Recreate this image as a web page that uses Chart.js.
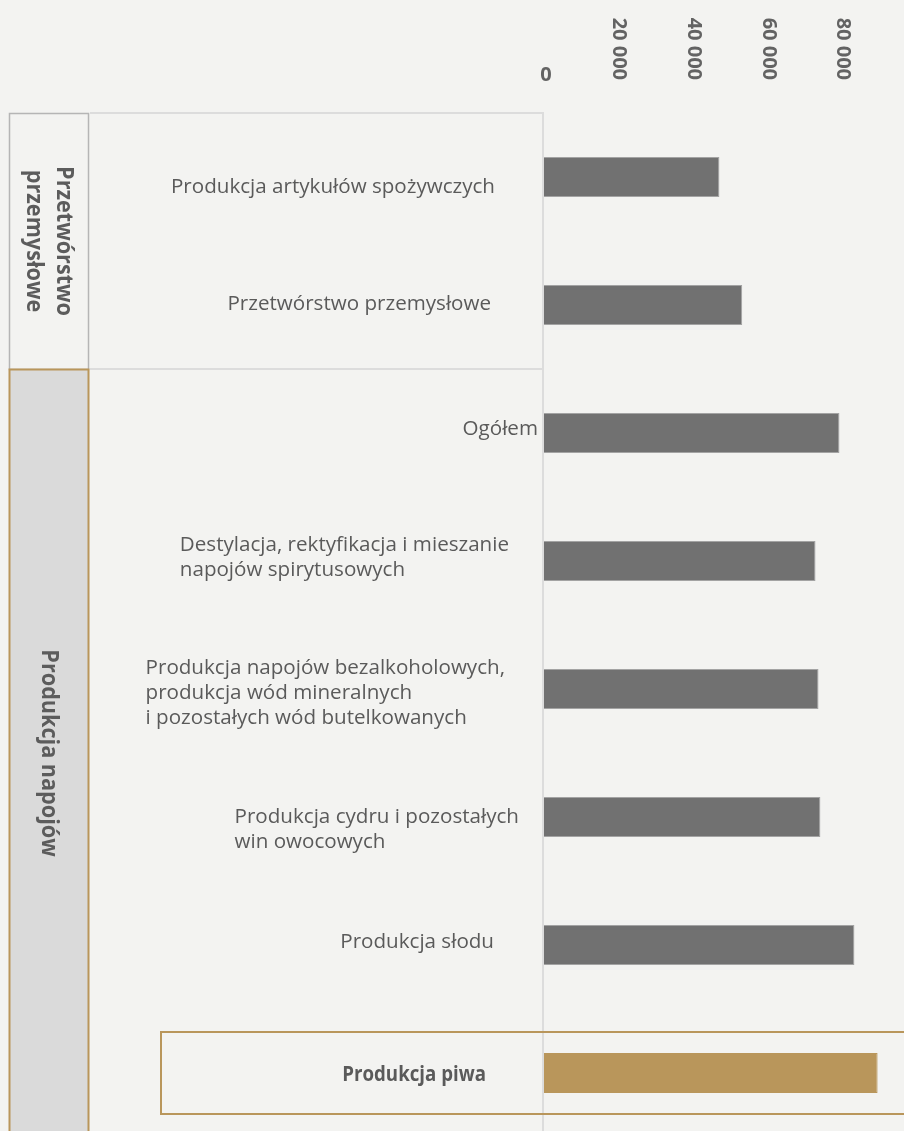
<!DOCTYPE html>
<html>
<head>
<meta charset="utf-8">
<script src="https://cdn.jsdelivr.net/npm/chart.js@4/dist/chart.umd.min.js"></script>
<style>
  html, body { margin: 0; padding: 0; background: #f3f3f1; overflow: hidden; }
  #wrap { position: relative; width: 904px; height: 1131px; overflow: hidden; }
  canvas { display: block; }
</style>
</head>
<body>
<div id="wrap"><canvas id="chart" width="918" height="1140"></canvas></div>
<script>
// Categories (multi-line labels), one bar each
const categories = [
  ['Produkcja artykułów spożywczych'],
  ['Przetwórstwo przemysłowe'],
  ['Ogółem'],
  ['Destylacja, rektyfikacja i mieszanie', 'napojów spirytusowych'],
  ['Produkcja napojów bezalkoholowych,', 'produkcja wód mineralnych', 'i pozostałych wód butelkowanych'],
  ['Produkcja cydru i pozostałych', 'win owocowych'],
  ['Produkcja słodu'],
  ['Produkcja piwa']
];
const values = [46900, 53000, 79000, 72600, 73400, 73900, 83000, 89200];

// Section grouping of the categories
const groupNames = [['Przetwórstwo', 'przemysłowe'], ['Produkcja napojów']];
const groupFirst = [0, 2];
const groupLast = [1, 7];
const highlightIndex = 7;

// Value axis ticks
const tickValues = [0, 20000, 40000, 60000, 80000];
const tickLabels = ['0', '20 000', '40 000', '60 000', '80 000'];

// Layout of the category text blocks: right edge and vertical nudge (px)
const labelRight = [495, 491, 538, 509, 505, 519, 494, 486];
const labelNudge = [10, -1, -4, -3, 4, 13, -3, 2];

const GOLD = '#b9965b';
const BAR = '#717171';
const TEXT = '#5a5a5a';
const FONT = "'Open Sans', 'Noto Sans', sans-serif";

const decor = {
  id: 'decor',
  beforeDatasetsDraw(chart) {
    const { ctx, chartArea } = chart;
    const x = chart.scales.x, y = chart.scales.y;
    const bottom = chart.height;
    ctx.save();

    // section boxes on the left
    groupNames.forEach((g, i) => {
      const top = i === 0 ? chartArea.top : y.getPixelForValue(groupFirst[i] - 0.5);
      const end = y.getPixelForValue(groupLast[i] + 0.5);
      if (i === 1) {
        ctx.fillStyle = '#dadada';
        ctx.fillRect(9, top, 80, end - top + 10);
        ctx.strokeStyle = GOLD;
        ctx.lineWidth = 2;
      } else {
        ctx.strokeStyle = '#b5b5b5';
        ctx.lineWidth = 1.5;
      }
      ctx.strokeRect(9.5, top + 0.5, 79, end - top);
    });

    // horizontal separators of the label column
    ctx.strokeStyle = '#dcdcdc';
    ctx.lineWidth = 2;
    [chartArea.top, y.getPixelForValue(1.5)].forEach(py => {
      ctx.beginPath();
      ctx.moveTo(90, py);
      ctx.lineTo(x.getPixelForValue(0), py);
      ctx.stroke();
    });

    // zero line
    const x0 = x.getPixelForValue(0) - 1;
    ctx.beginPath();
    ctx.moveTo(x0, chartArea.top - 1);
    ctx.lineTo(x0, bottom);
    ctx.stroke();

    // highlight frame around one category
    const hc = y.getPixelForValue(highlightIndex);
    ctx.strokeStyle = GOLD;
    ctx.lineWidth = 2;
    ctx.strokeRect(161, hc - 41, 900, 82);

    ctx.restore();
  },
  afterDatasetsDraw(chart) {
    const { ctx } = chart;
    const x = chart.scales.x, y = chart.scales.y;
    ctx.save();

    // value tick labels along the top
    ctx.fillStyle = '#636363';
    ctx.font = 'bold 20px ' + FONT;
    tickValues.forEach((v, i) => {
      const px = x.getPixelForValue(v);
      const t = tickLabels[i];
      if (t.length === 1) {
        ctx.textAlign = 'center';
        ctx.textBaseline = 'alphabetic';
        ctx.fillText(t, px + 2, 81);
      } else {
        ctx.save();
        ctx.translate(px, 80);
        ctx.rotate(Math.PI / 2);
        ctx.textAlign = 'right';
        ctx.textBaseline = 'middle';
        ctx.fillText(t, 0, 0);
        ctx.restore();
      }
    });

    // category labels
    categories.forEach((lines, i) => {
      const bold = i === highlightIndex;
      const squeeze = bold ? 0.89 : 1;
      ctx.font = bold ? 'bold 21px ' + FONT : '20.6px ' + FONT;
      ctx.fillStyle = TEXT;
      ctx.textAlign = 'left';
      ctx.textBaseline = 'middle';
      const w = Math.max(...lines.map(l => ctx.measureText(l).width)) * squeeze;
      const left = labelRight[i] - w;
      const cy = y.getPixelForValue(i) + labelNudge[i];
      const lh = 25;
      ctx.save();
      ctx.translate(left, cy);
      ctx.scale(squeeze, 1);
      lines.forEach((l, k) => {
        ctx.fillText(l, 0, (k - (lines.length - 1) / 2) * lh);
      });
      ctx.restore();
    });

    // section titles, rotated
    ctx.fillStyle = '#5c5c5c';
    ctx.font = 'bold 23px ' + FONT;
    groupNames.forEach((lines, i) => {
      const top = i === 0 ? chart.chartArea.top : y.getPixelForValue(groupFirst[i] - 0.5);
      const end = y.getPixelForValue(groupLast[i] + 0.5);
      ctx.save();
      ctx.translate(49, (top + end) / 2);
      ctx.rotate(Math.PI / 2);
      ctx.scale(0.94, 1);
      ctx.textAlign = 'center';
      ctx.textBaseline = 'middle';
      lines.forEach((l, k) => {
        ctx.fillText(l, 0, (k - (lines.length - 1) / 2) * 30);
      });
      ctx.restore();
    });

    ctx.restore();
  }
};

new Chart(document.getElementById('chart'), {
  type: 'bar',
  data: {
    labels: categories,
    datasets: [{
      data: values,
      backgroundColor: values.map((_, i) => i === highlightIndex ? GOLD : BAR),
      borderColor: values.map((_, i) => i === highlightIndex ? GOLD : '#a3a3a3'),
      borderWidth: 1,
      borderSkipped: 'start',
      categoryPercentage: 1,
      barPercentage: 0.3125
    }]
  },
  options: {
    indexAxis: 'y',
    responsive: false,
    animation: false,
    devicePixelRatio: 1,
    layout: { padding: { left: 544, top: 113, right: 0, bottom: 3 } },
    plugins: { legend: { display: false }, tooltip: { enabled: false } },
    scales: {
      x: { display: false, min: 0, max: 100000, ticks: { stepSize: 20000 } },
      y: { display: false }
    }
  },
  plugins: [decor]
});
</script>
</body>
</html>
